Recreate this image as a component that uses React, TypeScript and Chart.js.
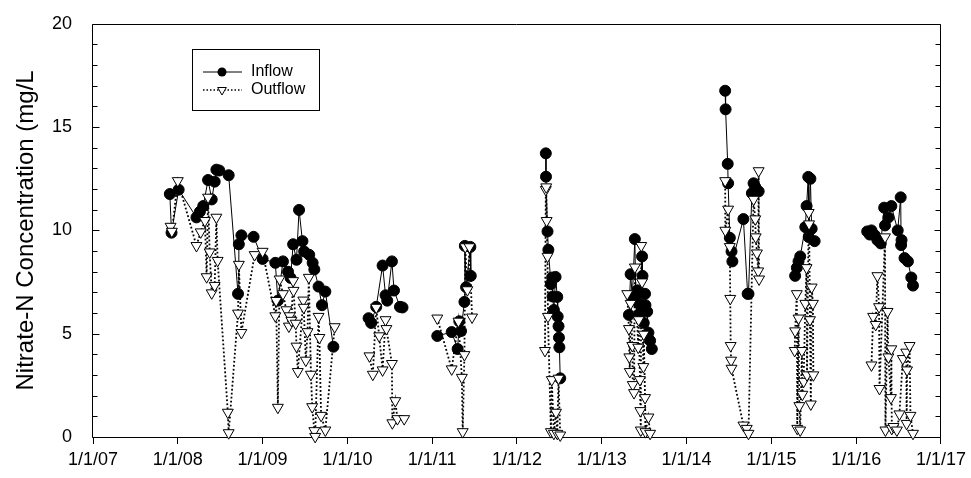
import React, { useEffect, useRef } from 'react';
import { Chart, registerables } from 'chart.js';

Chart.register(...registerables);

type P = [number, number];

// x = decimal year, y = Nitrate-N (mg/L)
const inflow2008_09: P[] = [
  [2007.906, 11.76], [2007.926, 9.89], [2008.01, 11.97], [2008.22, 10.63], [2008.26, 10.9],
  [2008.3, 11.18], [2008.357, 12.44], [2008.4, 11.5], [2008.435, 12.36], [2008.455, 12.94],
  [2008.49, 12.9], [2008.6, 12.67], [2008.71, 6.93], [2008.72, 9.33], [2008.75, 9.76],
  [2008.894, 9.69], [2009.0, 8.62], [2009.15, 8.43], [2009.18, 6.6], [2009.24, 8.5],
  [2009.3, 8.0], [2009.33, 7.7], [2009.36, 9.33], [2009.4, 8.58], [2009.43, 10.99],
  [2009.47, 9.48], [2009.49, 8.98], [2009.55, 8.82], [2009.59, 8.43], [2009.61, 8.11],
  [2009.66, 7.28], [2009.7, 6.38], [2009.74, 7.04], [2009.835, 4.37],
];
const inflow2010: P[] = [
  [2010.25, 5.75], [2010.28, 5.52], [2010.34, 6.3], [2010.415, 8.3], [2010.45, 6.86],
  [2010.47, 6.6], [2010.525, 8.5], [2010.55, 7.09], [2010.62, 6.3], [2010.65, 6.27],
];
const inflow2011: P[] = [
  [2011.06, 4.89], [2011.23, 5.08], [2011.3, 4.26], [2011.32, 5.6], [2011.34, 5.13],
  [2011.38, 6.54], [2011.385, 9.25], [2011.4, 7.25], [2011.45, 9.2], [2011.455, 7.8],
];
const inflow2012: P[] = [
  [2012.34, 13.73], [2012.342, 12.6], [2012.36, 9.95], [2012.37, 9.06], [2012.4, 7.4],
  [2012.415, 7.72], [2012.42, 6.8], [2012.435, 6.15], [2012.455, 7.75], [2012.475, 6.78],
  [2012.48, 5.83], [2012.49, 5.36], [2012.495, 4.81], [2012.5, 4.34], [2012.51, 2.84],
];
const inflow2013: P[] = [
  [2013.32, 5.91], [2013.34, 7.88], [2013.36, 6.8], [2013.39, 9.58], [2013.4, 6.85],
  [2013.42, 7.1], [2013.435, 6.46], [2013.45, 5.99], [2013.475, 8.74], [2013.48, 7.8],
  [2013.495, 5.52], [2013.51, 6.93], [2013.515, 6.38], [2013.535, 6.07], [2013.55, 5.05],
  [2013.57, 4.66], [2013.59, 4.26],
];
const inflow2014: P[] = [
  [2014.455, 16.76], [2014.46, 15.86], [2014.485, 13.22], [2014.49, 12.28], [2014.51, 9.64],
  [2014.53, 8.98], [2014.54, 8.5], [2014.67, 10.55], [2014.72, 6.93], [2014.73, 6.93],
  [2014.77, 11.8], [2014.79, 12.28], [2014.81, 12.1], [2014.85, 11.89],
];
const inflow2015: P[] = [
  [2015.28, 7.8], [2015.3, 8.19], [2015.32, 8.5], [2015.34, 8.74], [2015.4, 10.16],
  [2015.415, 11.18], [2015.435, 12.59], [2015.44, 9.68], [2015.46, 12.5], [2015.475, 10.08],
  [2015.51, 9.48],
];
const inflow2016: P[] = [
  [2016.13, 9.95], [2016.16, 9.8], [2016.18, 10.0], [2016.22, 9.76], [2016.25, 9.53],
  [2016.29, 9.37], [2016.33, 11.1], [2016.34, 10.24], [2016.38, 10.63], [2016.415, 11.18],
  [2016.49, 10.0], [2016.525, 11.6], [2016.53, 9.29], [2016.535, 9.53], [2016.57, 8.66],
  [2016.61, 8.5], [2016.65, 7.72], [2016.67, 7.33],
];

const outflow2008_09: P[] = [
  [2007.915, 10.19], [2007.93, 9.95], [2008.0, 12.4], [2008.22, 9.26], [2008.27, 9.92],
  [2008.32, 10.47], [2008.34, 7.75], [2008.357, 11.6], [2008.376, 8.95], [2008.4, 6.97],
  [2008.435, 7.33], [2008.455, 10.63], [2008.47, 8.54], [2008.59, 1.19], [2008.6, 0.2],
  [2008.71, 5.99], [2008.72, 8.35], [2008.75, 5.05], [2008.906, 8.82], [2009.0, 8.98],
  [2009.15, 5.86], [2009.16, 6.6], [2009.18, 1.43], [2009.2, 7.64], [2009.24, 6.93],
  [2009.28, 6.15], [2009.31, 5.36], [2009.32, 5.86], [2009.34, 5.64], [2009.36, 7.56],
  [2009.365, 7.09], [2009.39, 5.5], [2009.4, 4.39], [2009.415, 3.16], [2009.48, 6.62],
  [2009.485, 6.27], [2009.51, 3.71], [2009.53, 5.09], [2009.545, 7.72], [2009.57, 3.03],
  [2009.585, 1.46], [2009.61, 0.3], [2009.62, 0.02], [2009.66, 5.83], [2009.67, 4.81],
  [2009.69, 1.04], [2009.74, 0.33], [2009.85, 5.33],
];
const outflow2010: P[] = [
  [2010.26, 3.92], [2010.3, 3.03], [2010.34, 6.27], [2010.375, 4.89], [2010.415, 3.24],
  [2010.45, 5.67], [2010.46, 5.24], [2010.525, 3.55], [2010.53, 0.68], [2010.565, 1.75],
  [2010.59, 0.88], [2010.67, 0.88],
];
const outflow2011: P[] = [
  [2011.06, 5.75], [2011.23, 3.29], [2011.31, 5.6], [2011.35, 2.88], [2011.36, 0.25],
  [2011.38, 3.98], [2011.39, 9.2], [2011.415, 7.12], [2011.44, 9.2], [2011.47, 5.8],
];
const outflow2012: P[] = [
  [2012.33, 4.18], [2012.34, 11.97], [2012.345, 12.1], [2012.35, 10.47], [2012.36, 8.74],
  [2012.365, 5.83], [2012.4, 0.25], [2012.41, 2.77], [2012.435, 0.17], [2012.46, 1.19],
  [2012.475, 0.17], [2012.49, 2.84], [2012.51, 0.09],
];
const outflow2013: P[] = [
  [2013.3, 6.93], [2013.32, 5.24], [2013.325, 3.87], [2013.33, 3.16], [2013.34, 6.46],
  [2013.36, 4.42], [2013.365, 2.53], [2013.38, 2.14], [2013.39, 8.22], [2013.43, 4.34],
  [2013.435, 5.67], [2013.45, 2.77], [2013.455, 1.27], [2013.46, 0.33], [2013.465, 9.26],
  [2013.475, 7.5], [2013.49, 3.4], [2013.495, 4.97], [2013.51, 1.9], [2013.515, 0.25],
  [2013.55, 0.96], [2013.57, 0.17],
];
const outflow2014: P[] = [
  [2014.455, 12.4], [2014.457, 10.0], [2014.49, 11.02], [2014.51, 9.21], [2014.515, 6.7],
  [2014.52, 4.42], [2014.525, 3.71], [2014.53, 3.32], [2014.67, 0.57], [2014.71, 0.41],
  [2014.73, 0.17], [2014.79, 11.5], [2014.81, 10.55], [2014.815, 9.68], [2014.83, 8.9],
  [2014.845, 8.03], [2014.85, 12.88], [2014.855, 7.64],
];
const outflow2015: P[] = [
  [2015.275, 4.18], [2015.28, 5.13], [2015.3, 6.93], [2015.305, 0.41], [2015.32, 5.75],
  [2015.33, 1.51], [2015.34, 0.33], [2015.36, 4.18], [2015.365, 2.06], [2015.38, 2.69],
  [2015.4, 6.46], [2015.415, 8.19], [2015.42, 3.0], [2015.44, 10.86], [2015.445, 10.31],
  [2015.455, 5.67], [2015.465, 1.59], [2015.475, 7.25], [2015.49, 6.46], [2015.495, 3.0],
];
const outflow2016: P[] = [
  [2016.18, 3.48], [2016.2, 5.83], [2016.23, 5.44], [2016.25, 7.8], [2016.27, 6.3],
  [2016.275, 2.34], [2016.34, 9.68], [2016.345, 0.33], [2016.37, 6.07], [2016.38, 3.87],
  [2016.41, 1.9], [2016.415, 4.26], [2016.42, 0.41], [2016.44, 0.5], [2016.48, 0.33],
  [2016.51, 1.11], [2016.55, 3.79], [2016.59, 4.1], [2016.595, 0.65], [2016.6, 3.24],
  [2016.63, 4.42], [2016.64, 1.04], [2016.67, 0.17],
];

const inflowSeasons = [inflow2008_09, inflow2010, inflow2011, inflow2012, inflow2013, inflow2014, inflow2015, inflow2016];
const outflowSeasons = [outflow2008_09, outflow2010, outflow2011, outflow2012, outflow2013, outflow2014, outflow2015, outflow2016];

const seriesLabels = ['Inflow', 'Outflow'];
const yAxisTitle = 'Nitrate-N Concentration (mg/L';
const xMin = 2007;
const xMax = 2017;
const yMin = 0;
const yMax = 20;
const yMajorStep = 5;
const yMinorStep = 1;

const FONT = '"Liberation Sans", Arial, Helvetica, sans-serif';

function joinSeasons(seasons: P[][]) {
  const out: { x: number; y: number | null }[] = [];
  seasons.forEach((s, i) => {
    const sorted = s.slice().sort((a, b) => a[0] - b[0]);
    if (i > 0) {
      const prev = out[out.length - 1];
      out.push({ x: (prev.x + sorted[0][0]) / 2, y: null });
    }
    sorted.forEach(([x, y]) => out.push({ x, y }));
  });
  return out;
}

const framePlugin = {
  id: 'frameTicks',
  beforeDatasetsDraw(chart: any) {
    const { ctx, chartArea, scales } = chart;
    const { left, right, top, bottom } = chartArea;
    const y = scales.y;
    ctx.save();
    ctx.strokeStyle = '#000';
    ctx.lineWidth = 1;
    const L = Math.round(left) - 0.5;
    const R = Math.round(right) - 0.5;
    const T = Math.round(top) + 0.5;
    const B = Math.round(bottom) + 0.5;
    ctx.beginPath();
    ctx.rect(L, T, R - L, B - T);
    ctx.stroke();
    ctx.beginPath();
    for (let v = yMin; v <= yMax; v += yMinorStep) {
      const py = Math.round(y.getPixelForValue(v)) + 0.5;
      const major = v % yMajorStep === 0;
      const lenL = major ? 7 : 5;
      const lenR = major ? 6 : 5;
      ctx.moveTo(L, py);
      ctx.lineTo(L + lenL, py);
      ctx.moveTo(R, py);
      ctx.lineTo(R - lenR, py);
    }
    ctx.stroke();
    ctx.restore();
  },
};

const legendPlugin = {
  id: 'boxLegend',
  afterDraw(chart: any) {
    const ctx = chart.ctx;
    const bx = 192.5, by = 49.5, bw = 127, bh = 61;
    ctx.save();
    ctx.fillStyle = '#fff';
    ctx.fillRect(bx, by, bw, bh);
    ctx.strokeStyle = '#000';
    ctx.lineWidth = 1;
    ctx.strokeRect(bx, by, bw, bh);
    const lx0 = 203, lx1 = 242, mx = 222;
    const r1y = 72, r2y = 90;
    // Inflow
    ctx.beginPath();
    ctx.moveTo(lx0, r1y);
    ctx.lineTo(lx1, r1y);
    ctx.stroke();
    ctx.beginPath();
    ctx.arc(mx, r1y, 4.5, 0, Math.PI * 2);
    ctx.fillStyle = '#000';
    ctx.fill();
    // Outflow
    ctx.save();
    ctx.setLineDash([1.5, 2]);
    ctx.lineWidth = 1.5;
    ctx.beginPath();
    ctx.moveTo(lx0, r2y);
    ctx.lineTo(lx1, r2y);
    ctx.stroke();
    ctx.restore();
    const tr = 5;
    ctx.beginPath();
    ctx.moveTo(mx, r2y + tr);
    ctx.lineTo(mx - tr * 0.866, r2y - tr * 0.5);
    ctx.lineTo(mx + tr * 0.866, r2y - tr * 0.5);
    ctx.closePath();
    ctx.fillStyle = '#fff';
    ctx.fill();
    ctx.stroke();
    ctx.fillStyle = '#000';
    ctx.font = `16px ${FONT}`;
    ctx.textBaseline = 'middle';
    ctx.textAlign = 'left';
    const labels = chart.data.datasets.map((d: any) => d.label);
    ctx.fillText(labels[0], 251, r1y);
    ctx.fillText(labels[1], 251, r2y);
    ctx.restore();
  },
};

export default function App() {
  const ref = useRef<HTMLCanvasElement>(null);
  useEffect(() => {
    document.body.style.margin = '0';
    const canvas = ref.current;
    if (!canvas) return;
    const chart = new Chart(canvas, {
      type: 'line',
      data: {
        datasets: [
          {
            label: seriesLabels[0],
            data: joinSeasons(inflowSeasons) as any,
            borderColor: '#000',
            borderWidth: 1,
            backgroundColor: '#000',
            pointStyle: 'circle',
            pointRadius: 5.5,
            pointHoverRadius: 5.5,
            pointBorderWidth: 1,
            pointBackgroundColor: '#000',
            pointBorderColor: '#000',
            tension: 0,
            spanGaps: false,
            clip: false as any,
            order: 2,
          },
          {
            label: seriesLabels[1],
            data: joinSeasons(outflowSeasons) as any,
            borderColor: '#000',
            borderWidth: 1.8,
            borderDash: [1.8, 2.2],
            backgroundColor: '#fff',
            pointStyle: 'triangle',
            pointRotation: 180,
            pointRadius: 6.3,
            pointHoverRadius: 6.3,
            pointBorderWidth: 1,
            pointBackgroundColor: '#fff',
            pointBorderColor: '#000',
            tension: 0,
            spanGaps: false,
            clip: false as any,
            order: 1,
          },
        ],
      },
      options: {
        animation: false,
        responsive: false,
        events: [],
        layout: { padding: { left: 0, top: 13, right: 28, bottom: 0 } },
        plugins: {
          legend: { display: false },
          tooltip: { enabled: false },
        },
        scales: {
          x: {
            type: 'linear',
            min: xMin,
            max: xMax,
            grid: {
              display: true,
              drawOnChartArea: false,
              drawTicks: true,
              tickLength: 7,
              color: '#000',
              lineWidth: 1,
            },
            border: { display: false },
            ticks: {
              stepSize: 1,
              color: '#000',
              padding: 5,
              maxRotation: 0,
              autoSkip: false,
              font: { family: FONT, size: 18 },
              callback: (v: any) => `1/1/${String(Number(v) - 2000).padStart(2, '0')}`,
            },
            afterFit: (scale: any) => {
              scale.height = 41;
            },
          },
          y: {
            type: 'linear',
            min: yMin,
            max: yMax,
            grid: { display: false },
            border: { display: false },
            ticks: {
              stepSize: yMajorStep,
              color: '#000',
              padding: 13,
              font: { family: FONT, size: 18 },
            },
            title: {
              display: true,
              text: yAxisTitle,
              color: '#000',
              font: { family: FONT, size: 24 },
              padding: { top: 12, bottom: 0 },
            },
            afterFit: (scale: any) => {
              scale.width = 93;
            },
          },
        },
      },
      plugins: [framePlugin, legendPlugin],
    });
    return () => chart.destroy();
  }, []);
  return (
    <div style={{ width: 971, height: 478 }}>
      <canvas ref={ref} width={971} height={478} style={{ display: 'block' }} />
    </div>
  );
}
